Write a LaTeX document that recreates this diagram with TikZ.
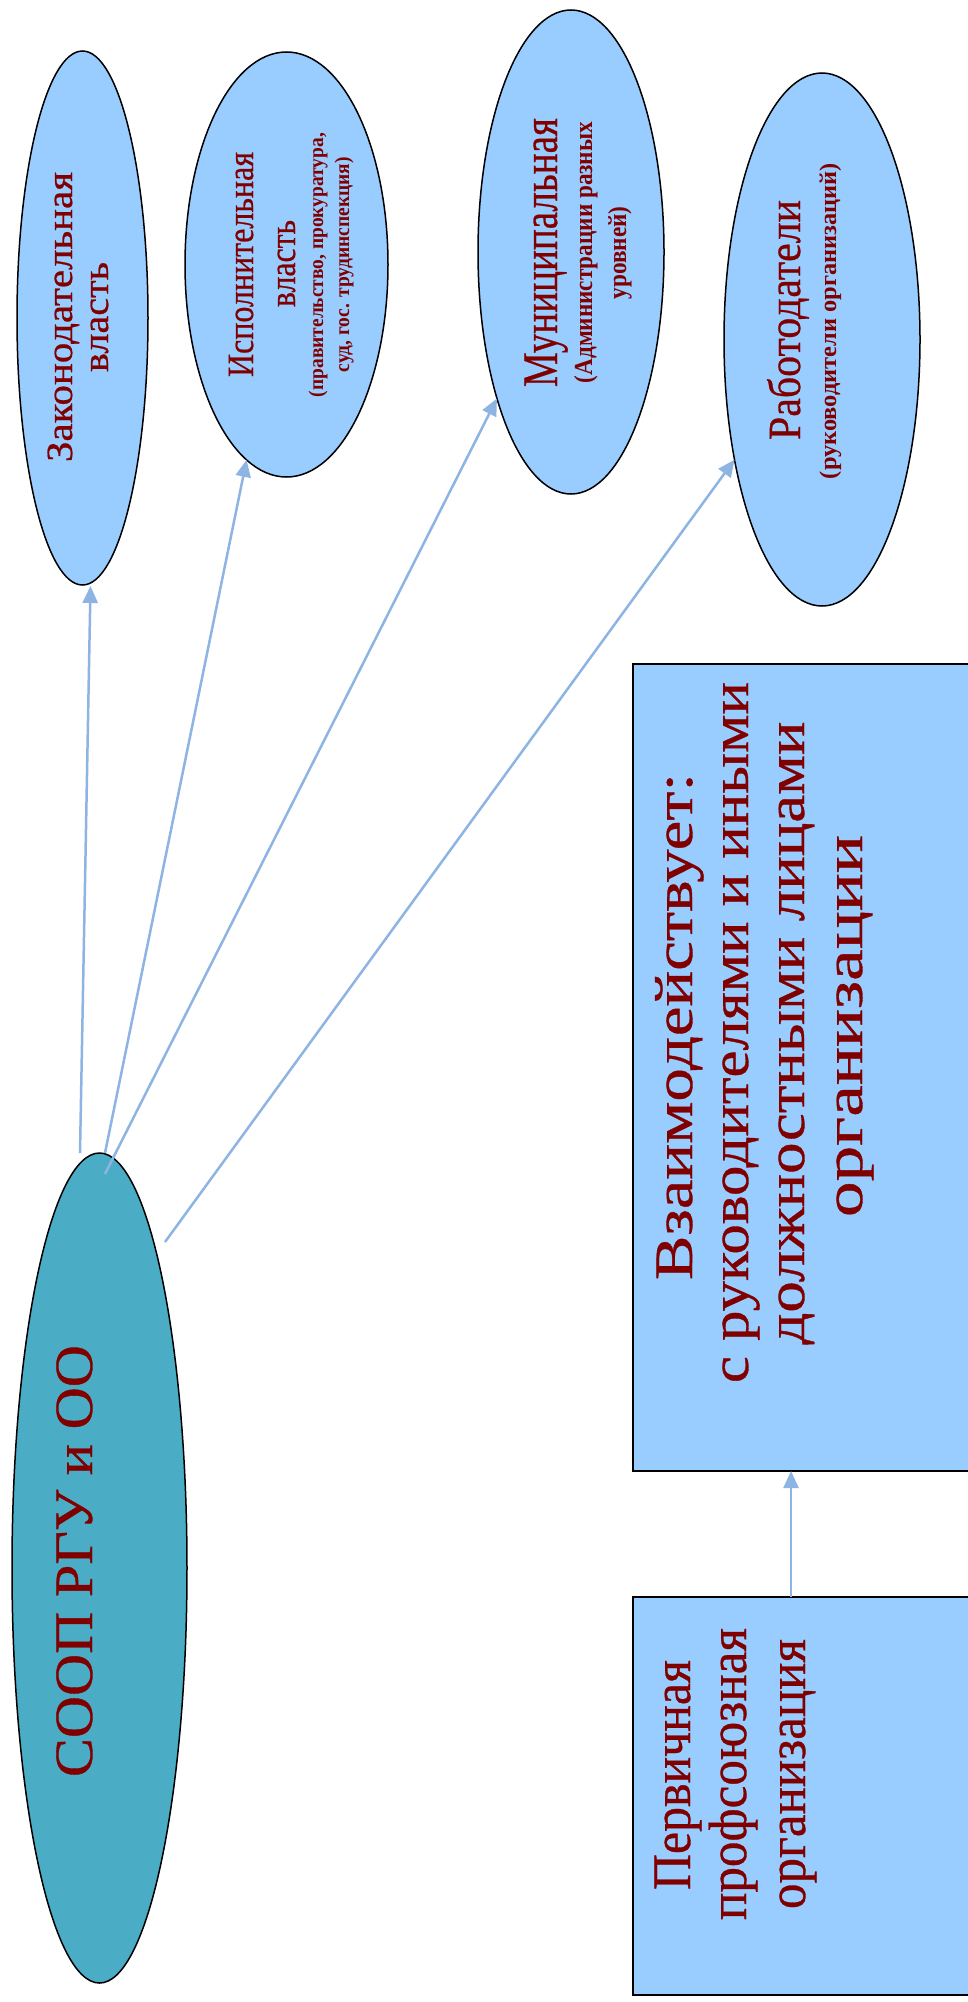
\documentclass[tikz,border=0pt]{standalone}
\usepackage{fontspec}
\setmainfont{Liberation Serif}[UprightFeatures={FakeBold=0.6}]
\usepackage{graphicx}
\usetikzlibrary{shapes.geometric,arrows.meta}
\definecolor{ellfill}{RGB}{153,204,255}
\definecolor{soopfill}{RGB}{75,172,198}
\definecolor{txtred}{RGB}{128,0,0}
\definecolor{arrblue}{RGB}{141,180,226}
\newcommand{\fitw}[2]{\resizebox{#1pt}{\height}{#2}}
\newcommand{\fsz}[1]{\fontsize{#1}{#1}\selectfont}
\begin{document}
\begin{tikzpicture}[x=1pt,y=-1pt,
  oval/.style={ellipse, draw=black, line width=1.5pt, fill=ellfill, inner sep=0pt, outer sep=0pt},
  rbox/.style={draw=black, line width=2.5pt, fill=ellfill, inner sep=0pt, outer sep=0pt, anchor=north west},
  lbl/.style={rotate=90, anchor=base, inner sep=0pt, text=txtred},
  link/.style={draw=arrblue, line width=2.5pt, -{Triangle[length=17pt,width=15pt]}}
]
\fill[white] (0,0) rectangle (967,2002);
\useasboundingbox (0,0) rectangle (967,2002);

% ellipses
\node[oval, minimum width=131pt, minimum height=534pt] (zak) at (82.5,318) {};
\node[oval, minimum width=203pt, minimum height=425pt] (isp) at (286.5,264.5) {};
\node[oval, minimum width=186pt, minimum height=484pt] (mun) at (571,252) {};
\node[oval, minimum width=196pt, minimum height=533pt] (rab) at (822,339.5) {};
\node[oval, fill=soopfill, minimum width=175pt, minimum height=830pt] (soop) at (99.5,1568) {};

% boxes
\node[rbox, minimum width=360pt, minimum height=807pt] (box1) at (633,664) {};
\node[rbox, minimum width=360pt, minimum height=398pt] (box2) at (633,1597) {};

% texts
\node[lbl, font=\fsz{37}] (zak1) at (72,317) {\fitw{290}{Законодательная}};
\node[lbl, font=\fsz{37}] (zak2) at (108,317) {\fitw{110}{власть}};

\node[lbl, font=\fsz{37}] (isp1) at (253,264.5) {\fitw{225}{Исполнительная}};
\node[lbl, font=\fsz{37}] (isp2) at (295,263.5) {\fitw{87}{власть}};
\node[lbl, font=\bfseries\fsz{21}] (isp3) at (323,265) {\fitw{264}{(правительство, прокуратура,}};
\node[lbl, font=\bfseries\fsz{21}] (isp4) at (349,264.5) {\fitw{215}{суд, гос. трудинспекция)}};

\node[lbl, font=\fsz{50}] (mun1) at (557,252.5) {\fitw{269}{Муниципальная}};
\node[lbl, font=\bfseries\fsz{26}] (mun2) at (592,252.5) {\fitw{261}{(Администрации разных}};
\node[lbl, font=\bfseries\fsz{26}] (mun3) at (626,253) {\fitw{93}{уровней)}};

\node[lbl, font=\fsz{46}] (rab1) at (800,320) {\fitw{240}{Работодатели}};
\node[lbl, font=\bfseries\fsz{24}] (rab2) at (836,321) {\fitw{316}{(руководители организаций)}};

\node[lbl, font=\fsz{54}] (soopt) at (92,1561) {\fitw{432}{СООП РГУ и ОО}};

\node[lbl, font=\fsz{54}] (b1l1) at (692,1026.5) {\fitw{507}{Взаимодействует:}};
\node[lbl, font=\fsz{54}] (b1l2) at (748,1032.5) {\fitw{701}{с руководителями и иными}};
\node[lbl, font=\fsz{54}] (b1l3) at (804,1033) {\fitw{623}{должностными лицами}};
\node[lbl, font=\fsz{54}] (b1l4) at (862,1026) {\fitw{382}{организации}};

\node[lbl, font=\fsz{54}] (b2l1) at (690,1775) {\fitw{230}{Первичная}};
\node[lbl, font=\fsz{54}] (b2l2) at (746,1774) {\fitw{292}{профсоюзная}};
\node[lbl, font=\fsz{54}] (b2l3) at (805,1774) {\fitw{270}{организация}};

% connector start and end points
\coordinate (s1) at ([xshift=-19.5pt]soop.north);
\coordinate (s2) at ([xshift=5.5pt]soop.north);
\coordinate (s3) at ([xshift=5.5pt,yshift=-21pt]soop.north);
\coordinate (s4) at ([xshift=65.5pt,yshift=-89pt]soop.north);
\coordinate (t1) at ([xshift=8pt,yshift=-1pt]zak.south);

\draw[link] (s1) -- (t1);
\draw[link] (s2) -- (isp);
\draw[link] (s3) -- (mun);
\draw[link] (s4) -- (rab);
\draw[link] ([xshift=158pt]box2.north west) -- ([xshift=158pt]box1.south west);
\end{tikzpicture}
\end{document}
